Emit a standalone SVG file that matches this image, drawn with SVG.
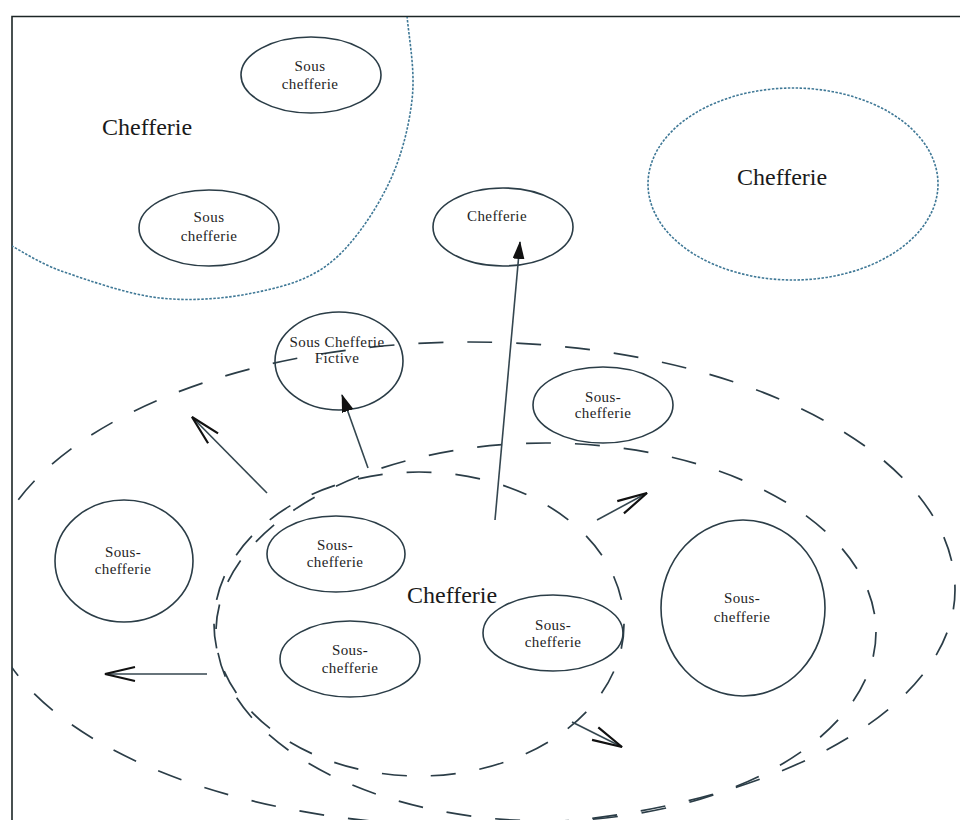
<svg xmlns="http://www.w3.org/2000/svg" width="960" height="820" viewBox="0 0 960 820">
<style>
.bg{fill:#ffffff}
.frame{fill:none;stroke:#1c2626;stroke-width:1.6}
.region{fill:none;stroke:#2b3d47;stroke-width:1.7;stroke-dasharray:25 24}
.dotted{fill:none;stroke:#3f7896;stroke-width:1.6;stroke-dasharray:2.5 1.5}
.node{fill:none;stroke:#2b3d47;stroke-width:1.6}
.lbl{font-family:"Liberation Serif","Times New Roman",serif;font-size:15px;letter-spacing:0.4px;fill:#1e1e1e;text-anchor:middle}
.big{font-family:"Liberation Serif","Times New Roman",serif;font-size:24px;fill:#1a1a1a}
.conn{fill:none;stroke:#34464f;stroke-width:1.6}
</style>
<defs>
<clipPath id="inside"><rect x="12" y="17" width="948" height="803"/></clipPath>
<marker id="tri" viewBox="0 0 18 12" refX="17" refY="6" markerWidth="18" markerHeight="12" markerUnits="userSpaceOnUse" orient="auto">
<path d="M0,0 L18,6 L0,12 z" fill="#111"/>
</marker>
<marker id="open" viewBox="-2 -2 34 18" refX="30" refY="7" markerWidth="34" markerHeight="18" markerUnits="userSpaceOnUse" orient="auto" overflow="visible">
<path d="M0,0 L30,7 L0,14" fill="none" stroke="#111" stroke-width="2.2"/>
</marker>
</defs>
<rect class="bg" x="0" y="0" width="960" height="820" fill="#fafafa"/>
<rect x="12" y="17" width="948" height="803" fill="#ffffff"/>
<path class="frame" d="M12,820 L12,16.5 L960,16.5"/>

<g id="regions" clip-path="url(#inside)">
<path id="region-chefferie-topleft" class="dotted" d="M407,16 C409.8,44.3 415.3,71.5 412,100 C408.7,128.5 400.7,159.8 387,187 C373.3,214.2 352.3,245.3 330,263 C307.7,280.7 281.3,287.2 253,293 C224.7,298.8 191,301.3 160,298 C129,294.7 90.7,281 67,273 C43.3,265 29.2,255.8 12,246"/>
<ellipse id="region-chefferie-right" class="dotted" cx="793" cy="184" rx="145" ry="96"/>
<path id="region-outer" class="region" d="M-15,590 A485,248 0 0 1 955,590 A485,236 0 0 1 -15,590 Z"/>
<ellipse id="region-middle" class="region" cx="546" cy="632" rx="330" ry="189"/>
<ellipse id="region-chefferie-center" class="region" cx="419" cy="624" rx="205" ry="152"/>
</g>

<g id="labels">
<text class="big" x="102" y="135">Chefferie</text>
<text class="big" x="737" y="185">Chefferie</text>
<text class="big" x="407" y="603">Chefferie</text>
</g>

<g id="n1"><ellipse class="node" cx="311" cy="75" rx="70" ry="38"/><text class="lbl" x="310" y="71">Sous</text><text class="lbl" x="310" y="89">chefferie</text></g>
<g id="n2"><ellipse class="node" cx="209" cy="228" rx="70" ry="38"/><text class="lbl" x="209" y="222">Sous</text><text class="lbl" x="209" y="241">chefferie</text></g>
<g id="n3"><ellipse class="node" cx="503" cy="227" rx="70" ry="39"/><text class="lbl" x="497" y="221">Chefferie</text></g>
<g id="n4"><ellipse class="node" cx="339" cy="361" rx="64" ry="49"/><text class="lbl" x="337" y="347">Sous Chefferie</text><text class="lbl" x="337" y="363">Fictive</text></g>
<g id="n5"><ellipse class="node" cx="603" cy="405" rx="70" ry="38"/><text class="lbl" x="603" y="402">Sous-</text><text class="lbl" x="603" y="418">chefferie</text></g>
<g id="n6"><ellipse class="node" cx="124" cy="561" rx="69" ry="61"/><text class="lbl" x="123" y="557">Sous-</text><text class="lbl" x="123" y="574">chefferie</text></g>
<g id="n7"><ellipse class="node" cx="336" cy="554" rx="69" ry="38"/><text class="lbl" x="335" y="550">Sous-</text><text class="lbl" x="335" y="567">chefferie</text></g>
<g id="n8"><ellipse class="node" cx="350" cy="659" rx="70" ry="38"/><text class="lbl" x="350" y="655">Sous-</text><text class="lbl" x="350" y="673">chefferie</text></g>
<g id="n9"><ellipse class="node" cx="553" cy="633" rx="70" ry="38"/><text class="lbl" x="553" y="630">Sous-</text><text class="lbl" x="553" y="647">chefferie</text></g>
<g id="n10"><ellipse class="node" cx="743" cy="608" rx="82" ry="88"/><text class="lbl" x="742" y="603">Sous-</text><text class="lbl" x="742" y="622">chefferie</text></g>

<g id="connectors">
<line class="conn" x1="495" y1="520" x2="520" y2="242" marker-end="url(#tri)"/>
<line class="conn" x1="368" y1="468" x2="342" y2="395" marker-end="url(#tri)"/>
<line class="conn" x1="267" y1="493" x2="192" y2="417" marker-end="url(#open)"/>
<line class="conn" x1="207" y1="674" x2="105" y2="674" marker-end="url(#open)"/>
<line class="conn" x1="597" y1="520" x2="647" y2="493" marker-end="url(#open)"/>
<line class="conn" x1="572" y1="722" x2="622" y2="747" marker-end="url(#open)"/>
</g>
</svg>
